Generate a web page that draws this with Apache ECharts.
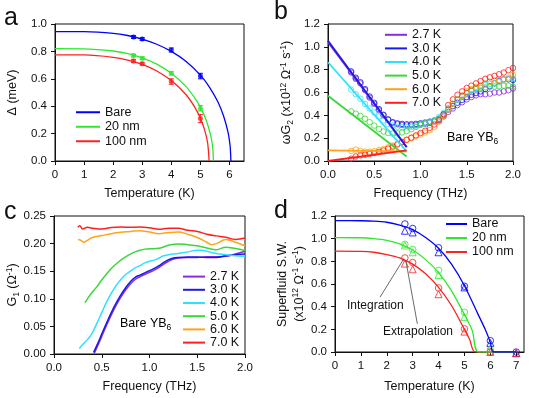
<!DOCTYPE html>
<html>
<head>
<meta charset="utf-8">
<script src="https://cdn.jsdelivr.net/npm/echarts@6/dist/echarts.min.js"></script>
<style>
html, body { margin: 0; padding: 0; background: #fff; }
#chart { width: 548px; height: 398px; }
</style>
</head>
<body>
<div id="chart"></div>
<script>
// ---- panel a: gap vs temperature ----
const tempA = [2.7, 3.0, 4.0, 5.0];
const gapBare = [0.905, 0.89, 0.81, 0.62];
const gap20 = [0.77, 0.75, 0.64, 0.385];
const gap100 = [0.73, 0.71, 0.58, 0.31];
const errBare = [0.01, 0.01, 0.015, 0.02];
const err20 = [0.01, 0.01, 0.012, 0.02];
const err100 = [0.012, 0.01, 0.02, 0.03];
const fitBareA = [[0, 0.945], [1, 0.944], [2, 0.932], [2.5, 0.916], [3, 0.89], [3.5, 0.852], [4, 0.80], [4.5, 0.728], [5, 0.627], [5.3, 0.543], [5.6, 0.432], [5.8, 0.327], [5.95, 0.21], [6.02, 0.115], [6.05, 0]];
const fit20A = [[0, 0.82], [1, 0.819], [2, 0.803], [2.5, 0.783], [3, 0.753], [3.5, 0.707], [4, 0.64], [4.5, 0.545], [4.8, 0.463], [5, 0.393], [5.2, 0.298], [5.35, 0.191], [5.42, 0.106], [5.45, 0]];
const fit100A = [[0, 0.775], [1, 0.774], [2, 0.757], [2.5, 0.737], [3, 0.705], [3.5, 0.657], [4, 0.587], [4.5, 0.485], [4.8, 0.395], [5, 0.312], [5.15, 0.224], [5.25, 0.13], [5.3, 0]];

// ---- panel b: wG2 vs frequency ----
const freqB = [0.25, 0.30, 0.35, 0.40, 0.45, 0.50, 0.55, 0.60, 0.65, 0.70, 0.75, 0.80, 0.85, 0.90, 0.95, 1.00, 1.05, 1.10, 1.15, 1.20, 1.25, 1.30, 1.35, 1.40, 1.45, 1.50, 1.55, 1.60, 1.65, 1.70, 1.75, 1.80, 1.85, 1.90, 1.95, 2.00];
const wg2_27 = [0.775, 0.72, 0.68, 0.62, 0.555, 0.50, 0.445, 0.40, 0.36, 0.335, 0.322, 0.315, 0.312, 0.312, 0.315, 0.32, 0.327, 0.335, 0.345, 0.36, 0.39, 0.43, 0.46, 0.49, 0.515, 0.54, 0.56, 0.575, 0.585, 0.585, 0.59, 0.60, 0.60, 0.61, 0.62, 0.635];
const wg2_30 = [0.785, 0.73, 0.69, 0.63, 0.565, 0.51, 0.455, 0.405, 0.365, 0.34, 0.33, 0.325, 0.322, 0.322, 0.325, 0.33, 0.337, 0.345, 0.355, 0.37, 0.40, 0.45, 0.48, 0.51, 0.535, 0.56, 0.58, 0.595, 0.61, 0.63, 0.655, 0.68, 0.70, 0.715, 0.715, 0.71];
const wg2_40 = [0.625, 0.585, 0.545, 0.50, 0.46, 0.425, 0.39, 0.355, 0.325, 0.31, 0.30, 0.295, 0.295, 0.30, 0.31, 0.318, 0.328, 0.337, 0.355, 0.385, 0.42, 0.46, 0.50, 0.535, 0.565, 0.595, 0.62, 0.64, 0.655, 0.667, 0.675, 0.68, 0.695, 0.71, 0.72, 0.725];
const wg2_50 = [0.435, 0.415, 0.395, 0.37, 0.34, 0.31, 0.28, 0.258, 0.245, 0.24, 0.242, 0.25, 0.262, 0.278, 0.298, 0.318, 0.332, 0.342, 0.352, 0.37, 0.41, 0.46, 0.50, 0.54, 0.57, 0.595, 0.615, 0.63, 0.64, 0.645, 0.65, 0.652, 0.655, 0.66, 0.66, 0.652];
const wg2_60 = [0.088, 0.10, 0.09, 0.082, 0.082, 0.086, 0.095, 0.105, 0.12, 0.135, 0.15, 0.168, 0.185, 0.20, 0.215, 0.232, 0.25, 0.27, 0.30, 0.345, 0.395, 0.45, 0.50, 0.54, 0.575, 0.61, 0.63, 0.65, 0.665, 0.68, 0.695, 0.705, 0.71, 0.715, 0.73, 0.755];
const wg2_70 = [0.02, 0.04, 0.05, 0.055, 0.062, 0.07, 0.08, 0.092, 0.108, 0.125, 0.145, 0.165, 0.186, 0.205, 0.225, 0.245, 0.265, 0.29, 0.32, 0.355, 0.41, 0.49, 0.54, 0.58, 0.61, 0.64, 0.66, 0.68, 0.70, 0.72, 0.733, 0.745, 0.76, 0.775, 0.795, 0.815];
// linear fits at low frequency: [f, value] at both ends
const lineFreq = [0, 0.85];
const fitStartB = [1.04, 1.054, 0.865, 0.571, 0.093, 0.0];
const fitEndB = [0.12, 0.122, 0.085, 0.04, 0.085, 0.093];

// ---- panel c: G1 vs frequency ----
const g1_27 = [[0.42, 0.001], [0.45, 0.012], [0.5, 0.032], [0.55, 0.052], [0.6, 0.071], [0.65, 0.088], [0.7, 0.103], [0.75, 0.116], [0.8, 0.127], [0.85, 0.135], [0.9, 0.14], [0.95, 0.144], [1.0, 0.148], [1.05, 0.152], [1.1, 0.157], [1.15, 0.163], [1.2, 0.168], [1.25, 0.172], [1.3, 0.174], [1.4, 0.175], [1.5, 0.175], [1.6, 0.176], [1.7, 0.176], [1.8, 0.177], [1.9, 0.181], [2.0, 0.186]];
const g1_30 = [[0.415, 0.003], [0.45, 0.016], [0.5, 0.036], [0.55, 0.056], [0.6, 0.075], [0.65, 0.092], [0.7, 0.107], [0.75, 0.12], [0.8, 0.131], [0.85, 0.139], [0.9, 0.143], [0.95, 0.147], [1.0, 0.151], [1.05, 0.155], [1.1, 0.16], [1.15, 0.166], [1.2, 0.171], [1.25, 0.174], [1.3, 0.175], [1.4, 0.1755], [1.5, 0.1755], [1.6, 0.175], [1.7, 0.175], [1.8, 0.178], [1.9, 0.18], [2.0, 0.181]];
const g1_40 = [[0.265, 0.01], [0.3, 0.017], [0.35, 0.026], [0.4, 0.038], [0.45, 0.056], [0.5, 0.075], [0.55, 0.094], [0.6, 0.11], [0.65, 0.124], [0.7, 0.135], [0.75, 0.144], [0.8, 0.15], [0.85, 0.156], [0.9, 0.16], [0.95, 0.165], [1.0, 0.168], [1.05, 0.17], [1.1, 0.174], [1.15, 0.178], [1.2, 0.18], [1.3, 0.182], [1.4, 0.185], [1.5, 0.188], [1.55, 0.188], [1.6, 0.186], [1.7, 0.182], [1.8, 0.18], [1.9, 0.178], [2.0, 0.177]];
const g1_50 = [[0.325, 0.093], [0.35, 0.1], [0.4, 0.112], [0.45, 0.122], [0.5, 0.134], [0.55, 0.145], [0.6, 0.155], [0.65, 0.163], [0.7, 0.17], [0.75, 0.176], [0.8, 0.181], [0.85, 0.185], [0.9, 0.188], [0.95, 0.19], [1.0, 0.1905], [1.1, 0.1915], [1.2, 0.197], [1.3, 0.1995], [1.4, 0.198], [1.5, 0.196], [1.6, 0.192], [1.7, 0.189], [1.8, 0.1935], [1.9, 0.191], [2.0, 0.1875]];
const g1_60 = [[0.25, 0.2075], [0.28, 0.206], [0.31, 0.2025], [0.35, 0.206], [0.4, 0.211], [0.5, 0.2145], [0.6, 0.218], [0.7, 0.2205], [0.8, 0.222], [0.9, 0.2235], [1.0, 0.221], [1.1, 0.218], [1.2, 0.22], [1.3, 0.221], [1.4, 0.217], [1.5, 0.211], [1.6, 0.2025], [1.65, 0.198], [1.7, 0.2], [1.8, 0.2075], [1.9, 0.2025], [2.0, 0.196]];
const g1_70 = [[0.25, 0.2295], [0.27, 0.2325], [0.3, 0.2265], [0.35, 0.2295], [0.4, 0.228], [0.5, 0.2265], [0.6, 0.229], [0.7, 0.23], [0.8, 0.2295], [0.9, 0.23], [1.0, 0.2285], [1.1, 0.226], [1.2, 0.228], [1.3, 0.228], [1.4, 0.224], [1.5, 0.222], [1.6, 0.217], [1.7, 0.214], [1.8, 0.2115], [1.9, 0.2075], [2.0, 0.21]];

// ---- panel d: superfluid spectral weight ----
const tempD = [2.7, 3.0, 4.0, 5.0, 6.0, 7.0];
const intBare = [1.13, 1.09, 0.92, 0.58, 0.10, 0.0];
const extBare = [1.07, 1.055, 0.88, 0.57, 0.08, -0.01];
const int20 = [0.95, 0.905, 0.72, 0.35, 0.02, null];
const ext20 = [0.94, 0.88, 0.68, 0.31, 0.03, null];
const int100 = [0.83, 0.79, 0.565, 0.205, 0.0, null];
const ext100 = [0.78, 0.73, 0.51, 0.18, 0.0, -0.01];
const fitBareD = [[0, 1.16], [1, 1.158], [1.5, 1.155], [2, 1.145], [2.5, 1.12], [3, 1.08], [3.5, 1.01], [4, 0.915], [4.5, 0.775], [5, 0.585], [5.5, 0.345], [5.8, 0.2], [6.0, 0.085], [6.12, 0], [7, 0]];
const fit20D = [[0, 1.01], [1, 1.008], [1.5, 1.0], [2, 0.985], [2.5, 0.955], [3, 0.9], [3.5, 0.815], [4, 0.70], [4.5, 0.54], [5, 0.33], [5.3, 0.19], [5.55, 0], [7, 0]];
const fit100D = [[0, 0.89], [1, 0.888], [1.5, 0.88], [2, 0.86], [2.5, 0.83], [3, 0.775], [3.5, 0.69], [4, 0.57], [4.5, 0.41], [5, 0.2], [5.2, 0.11], [5.42, 0], [7, 0]];
const integLine = [[1.74, 0.484], [2.66, 0.823]];
const extrapLine = [[3.18, 0.249], [2.74, 0.802]];

const tempNames = ['2.7 K', '3.0 K', '4.0 K', '5.0 K', '6.0 K', '7.0 K'];
const sampleNames = ['Bare', '20 nm', '100 nm'];

const font = "'Liberation Sans', Arial, sans-serif";
const ink = '#111';
const tColors = ['#8a2be2', '#1a1ae6', '#2fe0ff', '#3cd63c', '#ffa31a', '#ff1f1f'];
const sColors = ['#0000ff', '#2ee82e', '#ff2020'];

const pairs = (xs, ys) => xs.map((x, i) => [x, ys[i]]).filter(p => p[1] != null);
const errs = (xs, ys, es) => xs.map((x, i) => [x, ys[i], es[i]]);

const rich = (lh) => ({
  t: { fontSize: 12.5, fontFamily: font, color: ink, lineHeight: lh },
  sup: { fontSize: 8.5, fontFamily: font, color: ink, lineHeight: 8, verticalAlign: 'top' },
  sub: { fontSize: 8.5, fontFamily: font, color: ink, lineHeight: 8, verticalAlign: 'bottom' }
});

function axis(gi, min, max, interval, digits, name, gap, extra) {
  return Object.assign({
    type: 'value', gridIndex: gi, min: min, max: max, interval: interval,
    axisLine: { show: true, onZero: false, lineStyle: { color: ink, width: 1 } },
    axisTick: { show: true, inside: false, length: 4, lineStyle: { color: ink, width: 1 } },
    splitLine: { show: false },
    axisLabel: { color: ink, fontSize: 11.5, fontFamily: font, margin: 8,
      formatter: v => v.toFixed(digits) },
    name: name, nameLocation: 'middle', nameGap: gap, nameMoveOverlap: false,
    nameTextStyle: { color: ink, fontSize: 12.5, fontFamily: font }
  }, extra || {});
}

function errRender(params, api) {
  const x = api.value(0), y = api.value(1), e = api.value(2);
  const lo = api.coord([x, y - e]), hi = api.coord([x, y + e]);
  const w = 2.5;
  const style = { stroke: api.visual('color'), lineWidth: 1 };
  return { type: 'group', children: [
    { type: 'line', shape: { x1: lo[0], y1: lo[1], x2: hi[0], y2: hi[1] }, style: style },
    { type: 'line', shape: { x1: lo[0] - w, y1: lo[1], x2: lo[0] + w, y2: lo[1] }, style: style },
    { type: 'line', shape: { x1: hi[0] - w, y1: hi[1], x2: hi[0] + w, y2: hi[1] }, style: style }
  ] };
}

const series = [];

// panel a
[fitBareA, fit20A, fit100A].forEach((fit, i) => {
  series.push({ type: 'line', name: sampleNames[i], xAxisIndex: 0, yAxisIndex: 0, data: fit,
    smooth: 0.3, showSymbol: false, color: sColors[i],
    lineStyle: { color: sColors[i], width: 1.3 }, itemStyle: { color: sColors[i] } });
});
[[gapBare, errBare], [gap20, err20], [gap100, err100]].forEach((g, i) => {
  series.push({ type: 'scatter', name: sampleNames[i] + ' gap', xAxisIndex: 0, yAxisIndex: 0,
    data: pairs(tempA, g[0]), symbol: 'circle', symbolSize: 5, itemStyle: { color: sColors[i] } });
  series.push({ type: 'custom', name: sampleNames[i] + ' err', xAxisIndex: 0, yAxisIndex: 0,
    data: errs(tempA, g[0], g[1]), renderItem: errRender, encode: { x: 0, y: 1 },
    itemStyle: { color: sColors[i] } });
});

// panel b
[wg2_27, wg2_30, wg2_40, wg2_50, wg2_60, wg2_70].forEach((ys, i) => {
  series.push({ type: 'scatter', name: tempNames[i] + ' data', xAxisIndex: 1, yAxisIndex: 1,
    data: pairs(freqB, ys), symbol: 'circle', symbolSize: 5.5,
    itemStyle: { color: 'rgba(0,0,0,0)', borderColor: tColors[i], borderWidth: 1 } });
});
tColors.forEach((c, i) => {
  series.push({ type: 'line', name: tempNames[i], xAxisIndex: 1, yAxisIndex: 1,
    data: pairs(lineFreq, [fitStartB[i], fitEndB[i]]), showSymbol: false, color: c,
    lineStyle: { color: c, width: 1.8 }, itemStyle: { color: c } });
});

// panel c
[g1_27, g1_30, g1_40, g1_50, g1_60, g1_70].forEach((d, i) => {
  series.push({ type: 'line', name: tempNames[i], xAxisIndex: 2, yAxisIndex: 2, data: d,
    smooth: 0.4, showSymbol: false, color: tColors[i],
    lineStyle: { color: tColors[i], width: 1.5 }, itemStyle: { color: tColors[i] } });
});

// panel d (draw red first so blue lies on top along zero)
[fit100D, fit20D, fitBareD].forEach((fit, k) => {
  const i = 2 - k;
  series.push({ type: 'line', name: sampleNames[i], xAxisIndex: 3, yAxisIndex: 3, data: fit,
    smooth: 0.3, showSymbol: false, color: sColors[i],
    lineStyle: { color: sColors[i], width: 1.3 }, itemStyle: { color: sColors[i] } });
});
[[intBare, extBare], [int20, ext20], [int100, ext100]].forEach((g, i) => {
  series.push({ type: 'scatter', name: sampleNames[i] + ' int', xAxisIndex: 3, yAxisIndex: 3,
    data: pairs(tempD, g[0]), symbol: 'circle', symbolSize: 6.5, clip: false,
    itemStyle: { color: 'rgba(0,0,0,0)', borderColor: sColors[i], borderWidth: 1 } });
  series.push({ type: 'scatter', name: sampleNames[i] + ' ext', xAxisIndex: 3, yAxisIndex: 3,
    data: pairs(tempD, g[1]), symbol: 'triangle', symbolSize: 7, clip: false,
    itemStyle: { color: 'rgba(0,0,0,0)', borderColor: sColors[i], borderWidth: 1 } });
});
series.push({ type: 'line', name: 'pointers', xAxisIndex: 3, yAxisIndex: 3, data: [],
  markLine: { silent: true, symbol: 'none', label: { show: false },
    lineStyle: { color: '#444', width: 0.8, type: 'solid' },
    data: [
      [{ coord: integLine[0] }, { coord: integLine[1] }],
      [{ coord: extrapLine[0] }, { coord: extrapLine[1] }]
    ] } });

function legend(left, top, step, w, names) {
  return { orient: 'vertical', left: left, top: top, padding: 0, itemGap: 0,
    itemWidth: w, itemHeight: 2, icon: 'rect', selectedMode: false, data: names,
    textStyle: { color: ink, fontSize: 12.5, fontFamily: font, lineHeight: step } };
}

function letter(txt, x, y) {
  return { type: 'text', x: x, y: y,
    style: { text: txt, fill: ink, font: '25px ' + font, verticalAlign: 'middle' } };
}

const option = {
  animation: false,
  backgroundColor: '#fff',
  grid: [
    { left: 55, top: 24, width: 189, height: 137 },
    { left: 328, top: 24, width: 185, height: 137 },
    { left: 54, top: 216, width: 191, height: 138 },
    { left: 335, top: 216, width: 189, height: 136 }
  ].map(g => Object.assign({ show: true, borderColor: ink, borderWidth: 1,
    backgroundColor: 'transparent', containLabel: false, outerBoundsMode: 'none' }, g)),
  xAxis: [
    axis(0, 0, 6.5, 1, 0, 'Temperature (K)', 26, { axisLabel: { color: ink, fontSize: 11.5, fontFamily: font, margin: 8, showMaxLabel: false, formatter: v => v.toFixed(0) } }),
    axis(1, 0, 2, 0.5, 1, 'Frequency (THz)', 26),
    axis(2, 0, 2, 0.5, 1, 'Frequency (THz)', 26),
    axis(3, 0, 7.3, 1, 0, 'Temperature (K)', 28, { axisLabel: { color: ink, fontSize: 11.5, fontFamily: font, margin: 8, showMaxLabel: false, formatter: v => v.toFixed(0) } })
  ],
  yAxis: [
    axis(0, 0, 1.0, 0.2, 1, 'Δ (meV)', 36, { nameRotate: 90 }),
    axis(1, 0, 1.2, 0.2, 1, '{t|ωG}{sub|2}{t| (x10}{sup|12}{t| Ω}{sup|-1}{t| s}{sup|-1}{t|)}', 33,
      { nameRotate: 90, nameTextStyle: { rich: rich(16) } }),
    axis(2, 0, 0.25, 0.05, 2, '{t|G}{sub|1}{t| (Ω}{sup|-1}{t|)}', 33,
      { nameRotate: 90, nameTextStyle: { rich: rich(16) } }),
    axis(3, 0, 1.2, 0.2, 1, '{t|Superfluid S.W.}\n{t|(x10}{sup|12}{t| Ω}{sup|-1}{t| s}{sup|-1}{t|)}', 27,
      { nameRotate: 90, nameTextStyle: { rich: rich(17) } })
  ],
  legend: [
    legend(76, 105, 14.5, 24, sampleNames),
    legend(385, 28, 13.6, 22, tempNames),
    legend(183, 270, 13.2, 22, tempNames),
    legend(446, 217, 14, 21, sampleNames)
  ],
  graphic: [
    letter('a', 4, 18),
    letter('b', 274, 12),
    letter('c', 4, 212),
    letter('d', 274, 211),
    { type: 'text', x: 447, y: 138,
      style: { text: '{t|Bare YB}{sub|6}', rich: rich(16), verticalAlign: 'middle' } },
    { type: 'text', x: 120, y: 324,
      style: { text: '{t|Bare YB}{sub|6}', rich: rich(16), verticalAlign: 'middle' } },
    { type: 'text', x: 347, y: 306,
      style: { text: 'Integration', fill: ink, font: '12px ' + font, verticalAlign: 'middle' } },
    { type: 'text', x: 383, y: 332,
      style: { text: 'Extrapolation', fill: ink, font: '12px ' + font, verticalAlign: 'middle' } }
  ],
  series: series
};

const chart = echarts.init(document.getElementById('chart'), null, { renderer: 'canvas' });
chart.setOption(option);
</script>
</body>
</html>
